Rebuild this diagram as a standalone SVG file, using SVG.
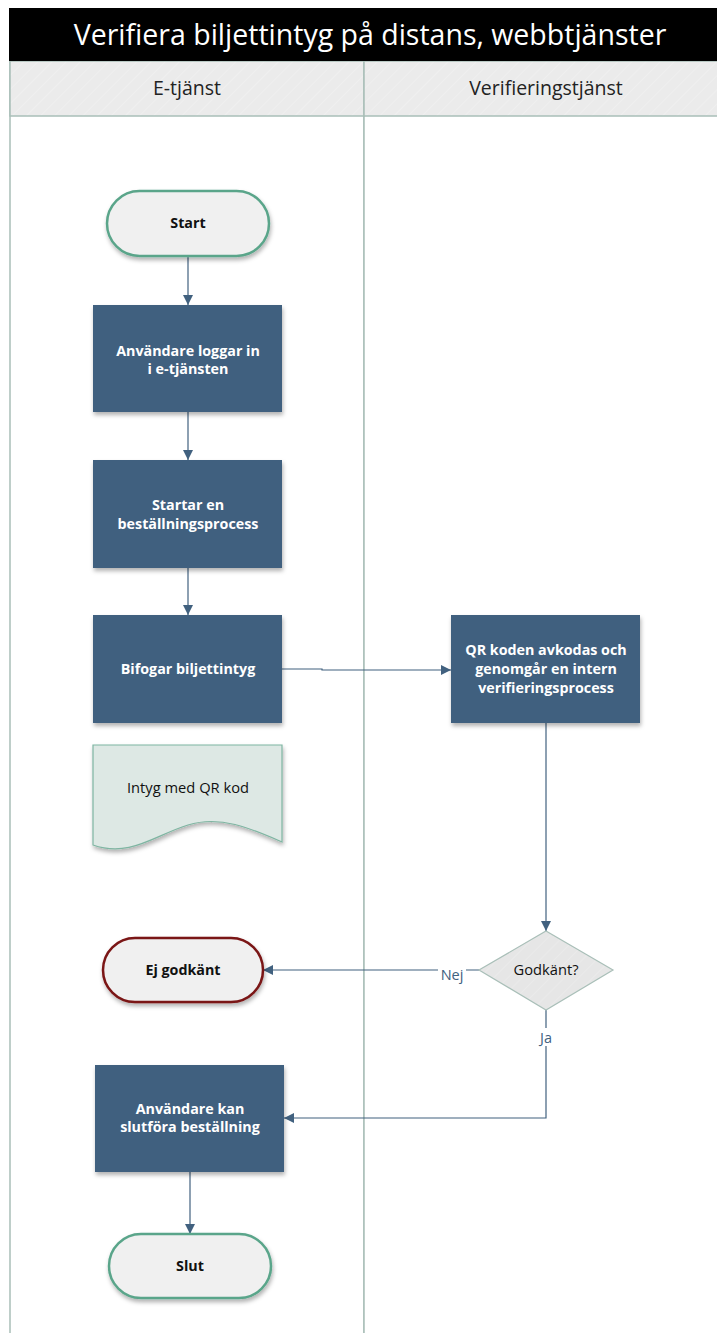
<svg xmlns="http://www.w3.org/2000/svg" width="717" height="1333" viewBox="0 0 717 1333">
  <defs>
    <style>
      .lane { fill: #ffffff; stroke: #a9bfb8; stroke-width: 1.5; }
      .lanehead { fill: url(#hatch); stroke: #a9bfb8; stroke-width: 1.5; }
      .title { font-family: "Open Sans", "Noto Sans", sans-serif; font-size: 28.5px; fill: #ffffff; }
      .lanetitle { font-family: "Open Sans", "Noto Sans", sans-serif; font-size: 19.5px; fill: #222222; }
      .proc { fill: #41617f; filter: url(#shadow); }
      .proctext { font-family: "Open Sans", "Noto Sans", sans-serif; font-size: 14.3px; font-weight: bold; fill: #ffffff; text-anchor: middle; }
      .term { fill: #f0f0f0; stroke-width: 2.5; filter: url(#shadow); }
      .termtext { font-family: "Open Sans", "Noto Sans", sans-serif; font-size: 14.3px; font-weight: bold; fill: #111111; text-anchor: middle; }
      .plain { font-family: "Open Sans", "Noto Sans", sans-serif; font-size: 14.7px; fill: #111111; text-anchor: middle; }
      .edge { fill: none; stroke: #41617f; stroke-width: 1.2; }
      .elabel { font-family: "Open Sans", "Noto Sans", sans-serif; font-size: 14.5px; fill: #41617f; text-anchor: middle; }
    </style>
    <pattern id="hatch" width="10" height="10" patternUnits="userSpaceOnUse" patternTransform="rotate(45)">
      <rect width="10" height="10" fill="#ebebeb"/>
      <line x1="0" y1="0" x2="0" y2="10" stroke="#f3f3f3" stroke-width="1.2"/>
    </pattern>
    <pattern id="hatch2" width="10" height="10" patternUnits="userSpaceOnUse" patternTransform="rotate(45)">
      <rect width="10" height="10" fill="#e6e6e6"/>
      <line x1="0" y1="0" x2="0" y2="10" stroke="#eeeeee" stroke-width="1.2"/>
    </pattern>
    <filter id="shadow" x="-10%" y="-10%" width="125%" height="130%">
      <feDropShadow dx="1" dy="3" stdDeviation="2" flood-color="#000000" flood-opacity="0.3"/>
    </filter>
    <marker id="arrow" viewBox="0 0 10 10" refX="10" refY="5" markerWidth="10" markerHeight="10" markerUnits="userSpaceOnUse" orient="auto">
      <path d="M0,0 L10,5 L0,10 Z" fill="#41617f"/>
    </marker>
  </defs>

  <!-- Pool and swimlanes -->
  <g id="pool">
    <rect x="10" y="61" width="354" height="1290" class="lane"/>
    <rect x="364" y="61" width="370" height="1290" class="lane"/>
    <rect x="10" y="61" width="354" height="55" class="lanehead"/>
    <rect x="364" y="61" width="370" height="55" class="lanehead"/>
    <rect x="9" y="8" width="720" height="53" fill="#000000"/>
    <text x="370" y="45" class="title" text-anchor="middle">Verifiera biljettintyg på distans, webbtjänster</text>
    <text x="187" y="95" class="lanetitle" text-anchor="middle">E-tjänst</text>
    <text x="546" y="95" class="lanetitle" text-anchor="middle">Verifieringstjänst</text>
  </g>

  <!-- Connectors -->
  <g id="connectors">
    <path class="edge" d="M188,256 V305" marker-end="url(#arrow)"/>
    <path class="edge" d="M188,412 V460" marker-end="url(#arrow)"/>
    <path class="edge" d="M188,568 V615" marker-end="url(#arrow)"/>
    <path class="edge" d="M282,669 H322 V670 H451" marker-end="url(#arrow)"/>
    <path class="edge" d="M546,723 V931" marker-end="url(#arrow)"/>
    <path class="edge" d="M479,970 H263" marker-end="url(#arrow)"/>
    <path class="edge" d="M546,1010 V1118 H284" marker-end="url(#arrow)"/>
    <path class="edge" d="M190,1172 V1234" marker-end="url(#arrow)"/>
    <rect x="438" y="962" width="28" height="18" fill="#ffffff"/>
    <text x="452" y="980" class="elabel">Nej</text>
    <rect x="536" y="1028" width="20" height="18" fill="#ffffff"/>
    <text x="546" y="1043" class="elabel">Ja</text>
  </g>

  <!-- Nodes -->
  <g id="start">
    <rect x="107" y="191" width="162" height="65" rx="32.5" class="term" stroke="#5aa58a"/>
    <text x="188" y="228" class="termtext">Start</text>
  </g>

  <g id="login">
    <rect x="93" y="305" width="189" height="107" class="proc"/>
    <text x="188" y="356" class="proctext">Användare loggar in</text>
    <text x="188" y="374" class="proctext">i e-tjänsten</text>
  </g>

  <g id="order">
    <rect x="93" y="460" width="189" height="108" class="proc"/>
    <text x="188" y="510" class="proctext">Startar en</text>
    <text x="188" y="529" class="proctext">beställningsprocess</text>
  </g>

  <g id="attach">
    <rect x="93" y="615" width="189" height="108" class="proc"/>
    <text x="188" y="674" class="proctext">Bifogar biljettintyg</text>
  </g>

  <g id="certificate">
    <path d="M93,745 H282 V842 C250,828 220,815 188,825 C155,835 130,858 93,845 Z" fill="#dde8e4" stroke="#7fb5a2" stroke-width="1.2" filter="url(#shadow)"/>
    <text x="188" y="793" class="plain">Intyg med QR kod</text>
  </g>

  <g id="verify">
    <rect x="451" y="615" width="189" height="108" class="proc"/>
    <text x="546" y="655" class="proctext">QR koden avkodas och</text>
    <text x="546" y="674" class="proctext">genomgår en intern</text>
    <text x="546" y="693" class="proctext">verifieringsprocess</text>
  </g>

  <g id="decision">
    <path d="M546,931 L613,970 L546,1010 L479,970 Z" fill="url(#hatch2)" stroke="#a9bfb8" stroke-width="1.2"/>
    <text x="546" y="975" class="plain">Godkänt?</text>
  </g>

  <g id="rejected">
    <rect x="103" y="938" width="160" height="64" rx="32" class="term" stroke="#7a1414"/>
    <text x="183" y="975" class="termtext">Ej godkänt</text>
  </g>

  <g id="complete">
    <rect x="95" y="1065" width="189" height="107" class="proc"/>
    <text x="190" y="1114" class="proctext">Användare kan</text>
    <text x="190" y="1132" class="proctext">slutföra beställning</text>
  </g>

  <g id="end">
    <rect x="109" y="1234" width="162" height="64" rx="32" class="term" stroke="#5aa58a"/>
    <text x="190" y="1271" class="termtext">Slut</text>
  </g>
</svg>
